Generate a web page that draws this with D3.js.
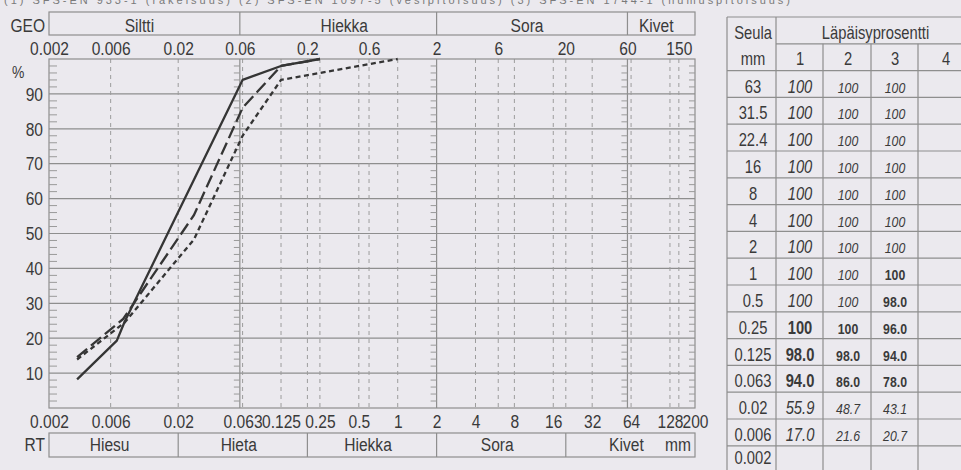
<!DOCTYPE html>
<html><head><meta charset="utf-8">
<script src="https://cdn.jsdelivr.net/npm/d3@7"></script>
<style>
html,body{margin:0;padding:0;background:#ebe9ee;}
svg{display:block;}
text{font-family:"Liberation Sans",Arial,sans-serif;fill:#3a3a3a;}
</style></head><body>
<svg id="c" width="961" height="470"></svg>
<script>
// ---------- data ----------
const geoClasses = ["Siltti", "Hiekka", "Sora", "Kivet"];
const geoBounds = [0.002, 0.06, 2, 60, 200];
const rtClasses = ["Hiesu", "Hieta", "Hiekka", "Sora", "Kivet"];
const rtBounds = [0.002, 0.02, 0.2, 2, 20, 200];
const topTicks = [0.002, 0.006, 0.02, 0.06, 0.2, 0.6, 2, 6, 20, 60, 150];
const bottomTicks = [0.002, 0.006, 0.02, 0.063, 0.125, 0.25, 0.5, 1, 2, 4, 8, 16, 32, 64, 128, 200];
const dashedSizes = [0.006, 0.02, 0.063, 0.125, 0.2, 0.25, 0.5, 0.6, 1, 4, 6, 8, 16, 20, 32, 64, 128, 150];
const percentTicks = [10, 20, 30, 40, 50, 60, 70, 80, 90];

// curves (grain size mm, passing %)
const size1 = [0.0033, 0.0067, 0.0077, 0.063, 0.125, 0.25];
const pass1Curve = [8.2, 19.3, 24.7, 94.0, 98.0, 100];
const size2 = [0.0033, 0.0075, 0.0265, 0.063, 0.125, 0.25];
const pass2Curve = [14.6, 25.5, 55.3, 86.0, 98.0, 100];
const size3 = [0.0033, 0.0077, 0.0265, 0.063, 0.125, 0.25, 0.5, 1];
const pass3Curve = [13.9, 24.5, 48.3, 78.0, 94.0, 96.0, 98.0, 100];

// table
const sieves = ["63", "31.5", "22.4", "16", "8", "4", "2", "1", "0.5", "0.25", "0.125", "0.063", "0.02", "0.006", "0.002"];
const passCol1 = ["100", "100", "100", "100", "100", "100", "100", "100", "100", "100", "98.0", "94.0", "55.9", "17.0", ""];
const passCol2 = ["100", "100", "100", "100", "100", "100", "100", "100", "100", "100", "98.0", "86.0", "48.7", "21.6", ""];
const passCol3 = ["100", "100", "100", "100", "100", "100", "100", "100", "98.0", "96.0", "94.0", "78.0", "43.1", "20.7", ""];
const passCol4 = ["", "", "", "", "", "", "", "", "", "", "", "", "", "", ""];
const tableHead = ["Seula", "mm", "Läpäisyprosentti", "1", "2", "3", "4"];
const caption = "(1) SFS-EN 933-1 (rakeisuus) (2) SFS-EN 1097-5 (vesipitoisuus) (3) SFS-EN 1744-1 (humuspitoisuus)";

// ---------- drawing ----------
const svg = d3.select("#c");
svg.append("rect").attr("width", 961).attr("height", 470).attr("fill", "#ebe9ee");

const x = d3.scaleLog().domain([0.002, 200]).range([49, 695]);
const y = d3.scaleLinear().domain([0, 100]).range([408, 59]);
const gridCol = "#8e8e8e";

const grid = svg.append("g");
grid.selectAll("line.h").data(percentTicks).join("line")
  .attr("x1", x(0.002)).attr("x2", x(200)).attr("y1", d => y(d)).attr("y2", d => y(d))
  .attr("stroke", gridCol).attr("stroke-width", 1.2);
grid.selectAll("line.d").data(dashedSizes).join("line")
  .attr("x1", d => x(d)).attr("x2", d => x(d)).attr("y1", y(100)).attr("y2", y(0))
  .attr("stroke", "#9c9c9c").attr("stroke-width", 1).attr("stroke-dasharray", "4,4");
grid.selectAll("line.s").data(geoBounds.slice(1, -1)).join("line")
  .attr("x1", d => x(d)).attr("x2", d => x(d)).attr("y1", y(100)).attr("y2", y(0))
  .attr("stroke", gridCol).attr("stroke-width", 1.2);
grid.append("rect").attr("x", x(0.002)).attr("y", y(100))
  .attr("width", x(200) - x(0.002)).attr("height", y(0) - y(100))
  .attr("fill", "none").attr("stroke", gridCol).attr("stroke-width", 1.2);

// minor ticks every 2 %
const minor = d3.range(2, 100, 2).filter(v => v % 10 !== 0);
const tickLines = [{v: 0.002, dir: 1, len: 8}, {v: 0.06, dir: -1, len: 6}, {v: 2, dir: -1, len: 6}, {v: 60, dir: -1, len: 6}, {v: 200, dir: -1, len: 6}];
tickLines.forEach(t => {
  grid.append("g").selectAll("line").data(minor).join("line")
    .attr("x1", x(t.v)).attr("x2", x(t.v) + t.dir * t.len)
    .attr("y1", d => y(d)).attr("y2", d => y(d))
    .attr("stroke", "#9a9a9a").attr("stroke-width", 1);
});

// header (GEO) band
const hb = svg.append("g");
hb.append("rect").attr("x", x(0.002)).attr("y", 12).attr("width", x(200) - x(0.002)).attr("height", 23)
  .attr("fill", "none").attr("stroke", gridCol).attr("stroke-width", 1.2);
hb.selectAll("line").data(geoBounds.slice(1, -1)).join("line")
  .attr("x1", d => x(d)).attr("x2", d => x(d)).attr("y1", 12).attr("y2", 35)
  .attr("stroke", gridCol).attr("stroke-width", 1.2);
hb.selectAll("text").data(geoClasses).join("text")
  .attr("x", (d, i) => x(Math.sqrt(geoBounds[i] * geoBounds[i + 1])) + (i === 1 ? 6 : -5))
  .attr("y", 32).attr("text-anchor", "middle").attr("font-size", 19).text(d => d);
svg.append("text").attr("x", 45).attr("y", 32).attr("text-anchor", "end").attr("font-size", 19).text("GEO");

// RT band
const rb = svg.append("g");
rb.append("rect").attr("x", x(0.002)).attr("y", 433).attr("width", x(200) - x(0.002)).attr("height", 24)
  .attr("fill", "none").attr("stroke", gridCol).attr("stroke-width", 1.2);
rb.selectAll("line").data(rtBounds.slice(1, -1)).join("line")
  .attr("x1", d => x(d)).attr("x2", d => x(d)).attr("y1", 433).attr("y2", 457)
  .attr("stroke", gridCol).attr("stroke-width", 1.2);
rb.selectAll("text").data(rtClasses).join("text")
  .attr("x", (d, i) => x(Math.sqrt(rtBounds[i] * rtBounds[i + 1])) - 4)
  .attr("y", 451).attr("text-anchor", "middle").attr("font-size", 19).text(d => d);
rb.append("text").attr("x", 691).attr("y", 451).attr("text-anchor", "end").attr("font-size", 19).text("mm");
svg.append("text").attr("x", 45).attr("y", 451).attr("text-anchor", "end").attr("font-size", 19).text("RT");

// axes
const axTop = svg.append("g").attr("transform", "translate(0,55)")
  .call(d3.axisTop(x).tickValues(topTicks).tickFormat(d => String(d)).tickSize(0).tickPadding(0));
const axBot = svg.append("g").attr("transform", "translate(0,428)")
  .call(d3.axisBottom(x).tickValues(bottomTicks).tickFormat(d => String(d)).tickSize(0).tickPadding(0));
const axLeft = svg.append("g").attr("transform", "translate(43,0)")
  .call(d3.axisLeft(y).tickValues(percentTicks).tickSize(0).tickPadding(0));
[axTop, axBot, axLeft].forEach(a => {
  a.select(".domain").remove();
  a.selectAll("text").attr("font-size", 19).attr("font-family", null).style("fill", "#3a3a3a");
});
axTop.selectAll("text").attr("y", 0).attr("dy", 0);
axBot.selectAll("text").attr("y", 0).attr("dy", 0);
axLeft.selectAll("text").attr("dy", "0.33em");
svg.append("text").attr("x", 12).attr("y", 78).attr("font-size", 17).text("%");

// curves
const line = d3.line().x(d => x(d[0])).y(d => y(d[1]));
const curves = [
  {s: size1, p: pass1Curve, dash: null},
  {s: size2, p: pass2Curve, dash: "13,5"},
  {s: size3, p: pass3Curve, dash: "5,3.5"}
];
curves.forEach(c => {
  svg.append("path").datum(c.s.map((d, i) => [d, c.p[i]]))
    .attr("d", line).attr("fill", "none").attr("stroke", "#353535")
    .attr("stroke-width", 2.3).attr("stroke-linejoin", "round")
    .attr("stroke-dasharray", c.dash);
});

// table
const tb = svg.append("g");
const colX = [727, 776, 823, 871, 918, 975];
const rowTop = 17, rowH = 26.8, nRows = 2 + sieves.length;
const rowY = k => rowTop + k * rowH;
for (let k = 0; k <= nRows; k++) {
  tb.append("line").attr("x1", k === 1 ? colX[1] : colX[0]).attr("x2", colX[5])
    .attr("y1", rowY(k)).attr("y2", rowY(k)).attr("stroke", gridCol).attr("stroke-width", 1.2);
}
colX.forEach((cx, i) => {
  tb.append("line").attr("x1", cx).attr("x2", cx)
    .attr("y1", (i >= 2 && i <= 4) ? rowY(1) : rowY(0)).attr("y2", rowY(nRows))
    .attr("stroke", gridCol).attr("stroke-width", 1.2);
});
const colC = [753, 800, 848, 895, 946];
tb.append("text").attr("x", colC[0]).attr("y", rowY(0) + 22).attr("text-anchor", "middle").attr("font-size", 18).text(tableHead[0]);
tb.append("text").attr("x", colC[0]).attr("y", rowY(1) + 21).attr("text-anchor", "middle").attr("font-size", 18).text(tableHead[1]);
tb.append("text").attr("x", (colX[1] + colX[5]) / 2).attr("y", rowY(0) + 22).attr("text-anchor", "middle").attr("font-size", 18).text(tableHead[2]);
tableHead.slice(3).forEach((h, i) => {
  tb.append("text").attr("x", colC[i + 1]).attr("y", rowY(1) + 21).attr("text-anchor", "middle").attr("font-size", 18).text(h);
});
const cols = [passCol1, passCol2, passCol3, passCol4];
sieves.forEach((s, r) => {
  const by = Math.min(rowY(r + 2) + 22, 464);
  tb.append("text").attr("x", colC[0]).attr("y", by).attr("text-anchor", "middle").attr("font-size", 18).text(s);
  const v = +s;
  cols.forEach((col, c) => {
    if (!col[r]) return;
    const bold = (v >= 0.063 && v <= 0.25) || (c === 2 && (v === 0.5 || v === 1));
    const t = tb.append("text").attr("x", colC[c + 1]).attr("y", by).attr("text-anchor", "middle")
      .attr("font-size", c === 0 ? 18 : 15).text(col[r]);
    if (bold) t.attr("font-weight", "bold");
    else t.attr("font-style", "italic");
  });
});

// condensed look (narrow font emulation): squeeze every text horizontally about its anchor
svg.selectAll("text").each(function () {
  const t = d3.select(this);
  const tx = +t.attr("x") || 0, ty = +t.attr("y") || 0;
  t.attr("x", 0).attr("y", 0).attr("transform", `translate(${tx},${ty}) scale(0.82,1)`);
});

// caption line at the very top (cut off in the scan)
svg.append("text").attr("x", 4).attr("y", 3.5)
  .attr("textLength", 786).attr("lengthAdjust", "spacing")
  .attr("font-size", 11).style("fill", "#7a7a7a").text(caption);
</script>
</body></html>
